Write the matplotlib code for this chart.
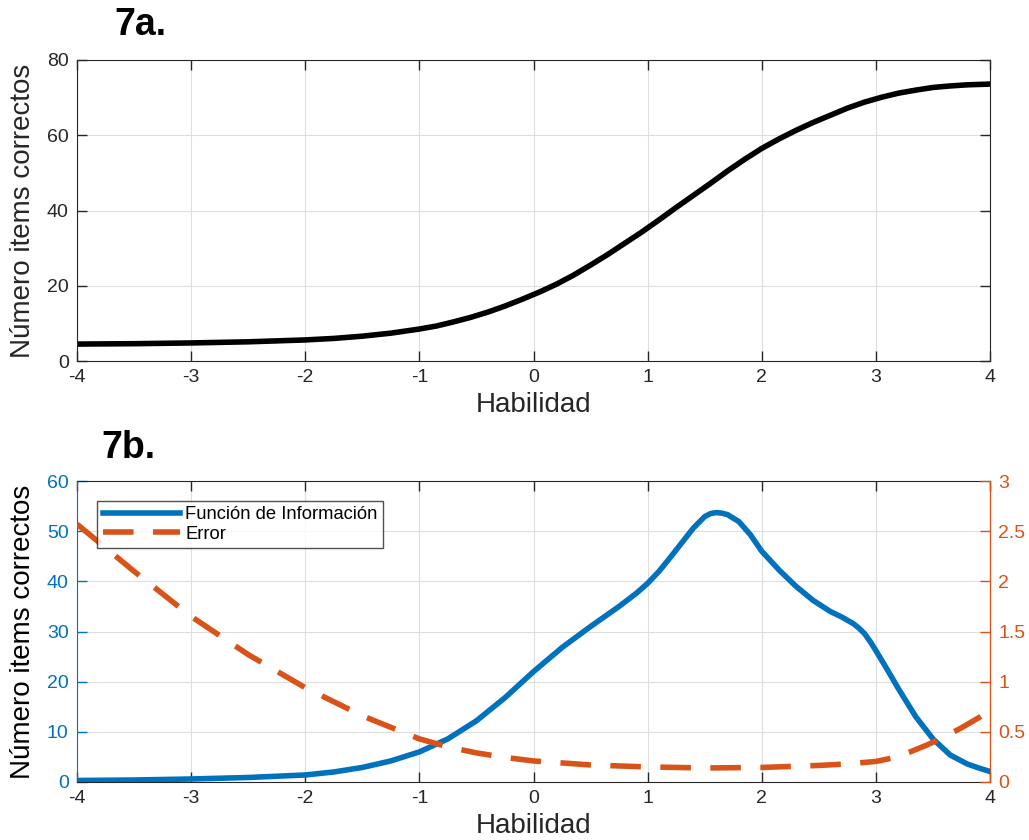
import numpy as np
import matplotlib.pyplot as plt

plt.rcParams['font.family'] = ['Liberation Sans', 'DejaVu Sans']
plt.rcParams['axes.unicode_minus'] = False

# Figure 7a: expected number of correct items
hab_a = [-4, -3.5, -3, -2.5, -2, -1.75, -1.5, -1.25, -1, -0.85, -0.7, -0.55, -0.4, -0.25, -0.1,
         0.05, 0.2, 0.35, 0.5, 0.65, 0.8, 0.95, 1.1, 1.25, 1.4, 1.55, 1.7, 1.85, 2,
         2.15, 2.3, 2.45, 2.6, 2.75, 2.9, 3.05, 3.2, 3.35, 3.5, 3.65, 3.8, 4]
items_a = [4.5, 4.6, 4.8, 5.1, 5.6, 6.0, 6.6, 7.4, 8.5, 9.3, 10.4, 11.6, 13.0, 14.6, 16.4,
           18.3, 20.4, 22.8, 25.5, 28.3, 31.3, 34.3, 37.5, 40.8, 44.0, 47.2, 50.5, 53.6, 56.5,
           59.0, 61.3, 63.4, 65.3, 67.2, 68.8, 70.1, 71.2, 72.0, 72.7, 73.1, 73.4, 73.6]

# Figure 7b: information function and error
hab_b = [-4, -3.5, -3, -2.5, -2, -1.75, -1.5, -1.25, -1, -0.75, -0.5, -0.25, 0, 0.25, 0.5,
         0.75, 0.9, 1, 1.1, 1.2, 1.3, 1.4, 1.5, 1.55, 1.6, 1.65, 1.7, 1.8, 1.9, 2, 2.15, 2.3,
         2.45, 2.6, 2.7, 2.8, 2.85, 2.9, 2.95, 3, 3.1, 3.2, 3.35, 3.5, 3.65, 3.8, 3.9, 4]
info_b = [0.3, 0.4, 0.6, 0.9, 1.4, 2.0, 2.9, 4.2, 6.0, 8.6, 12.2, 16.8, 22.0, 26.8, 31.0,
          35.0, 37.6, 39.6, 42.0, 44.8, 47.7, 50.6, 52.9, 53.5, 53.7, 53.6, 53.3, 51.9, 49.3, 46.0,
          42.3, 39.0, 36.2, 34.0, 32.9, 31.6, 30.7, 29.6, 28.0, 26.2, 22.4, 18.5, 13.0, 8.6,
          5.4, 3.6, 2.8, 2.1]

hab_err = [-4, -3.5, -3, -2.5, -2, -1.5, -1, -0.75, -0.5, -0.25, 0, 0.5, 1, 1.5, 2, 2.5,
           2.75, 3, 3.15, 3.3, 3.45, 3.6, 3.75, 3.9, 4]
err_b = [2.57, 2.1, 1.65, 1.27, 0.94, 0.66, 0.43, 0.35, 0.29, 0.245, 0.21, 0.17, 0.15, 0.14,
         0.145, 0.165, 0.18, 0.205, 0.24, 0.3, 0.37, 0.45, 0.54, 0.64, 0.71]

blue = (0.0, 0.447, 0.741)
orange = (0.85, 0.325, 0.098)
dark = (0.15, 0.15, 0.15)

fig = plt.figure(figsize=(10.29, 8.4), dpi=100)
W, H = 1029, 840


def box(l, t, r, b):
    return [l / W, 1 - b / H, (r - l) / W, (b - t) / H]


def style(ax):
    ax.grid(True, color=(0.87, 0.87, 0.87), linewidth=0.8)
    ax.set_axisbelow(True)
    ax.tick_params(direction='in', length=7, width=1, labelsize=14, pad=6)
    ax.set_xlim(-4, 4)
    ax.set_xticks(range(-4, 5))
    ax.set_xlabel('Habilidad', fontsize=20, color=dark, labelpad=4)


# --- 7a ---
ax1 = fig.add_axes(box(77, 60, 990, 361))
ax1.plot(hab_a, items_a, color='black', linewidth=4)
style(ax1)
ax1.set_ylim(0, 80)
ax1.set_yticks(range(0, 81, 20))
ax1.tick_params(top=True, right=True, colors=dark)
for s in ax1.spines.values():
    s.set_color(dark)
ax1.set_ylabel('Número items correctos', fontsize=20, color=dark, labelpad=8)
fig.text(140 / W, 1 - 25 / H, '7a.', fontsize=27, fontweight='bold', ha='center', va='center')

# --- 7b ---
ax2 = fig.add_axes(box(77, 481, 990, 782))
l1, = ax2.plot(hab_b, info_b, color=blue, linewidth=4, label='Función de Información')
style(ax2)
ax2.set_ylim(0, 60)
ax2.set_yticks(range(0, 61, 10))
ax2.tick_params(top=True, axis='x', colors=dark)
ax2.tick_params(axis='y', colors=blue)
ax2.spines['left'].set_color(blue)
ax2.spines['top'].set_color(dark)
ax2.spines['bottom'].set_color(dark)
ax2.set_ylabel('Número items correctos', fontsize=20, color='black', labelpad=8)

ax3 = ax2.twinx()
l2, = ax3.plot(hab_err, err_b, color=orange, linewidth=4, dashes=(5.5, 3.5), label='Error')
ax3.set_ylim(0, 3)
ax3.set_yticks([0, 0.5, 1, 1.5, 2, 2.5, 3])
ax3.set_yticklabels(['0', '0.5', '1', '1.5', '2', '2.5', '3'])
ax3.tick_params(direction='in', length=7, width=1, labelsize=14, pad=6, colors=orange)
ax3.spines['right'].set_color(orange)
ax3.spines['left'].set_visible(False)
ax3.spines['top'].set_visible(False)
ax3.spines['bottom'].set_visible(False)

leg = ax3.legend(handles=[l1, l2], loc='upper left', bbox_to_anchor=(0.022, 0.935),
                 fontsize=13.2, frameon=True, fancybox=False, borderpad=0.3,
                 handlelength=4.2, handletextpad=0.3, labelspacing=0.15, borderaxespad=0)
leg.get_frame().set_edgecolor(dark)
leg.get_frame().set_linewidth(1)
fig.text(128 / W, 1 - 448 / H, '7b.', fontsize=27, fontweight='bold', ha='center', va='center')

fig.savefig('out.png', dpi=100)
